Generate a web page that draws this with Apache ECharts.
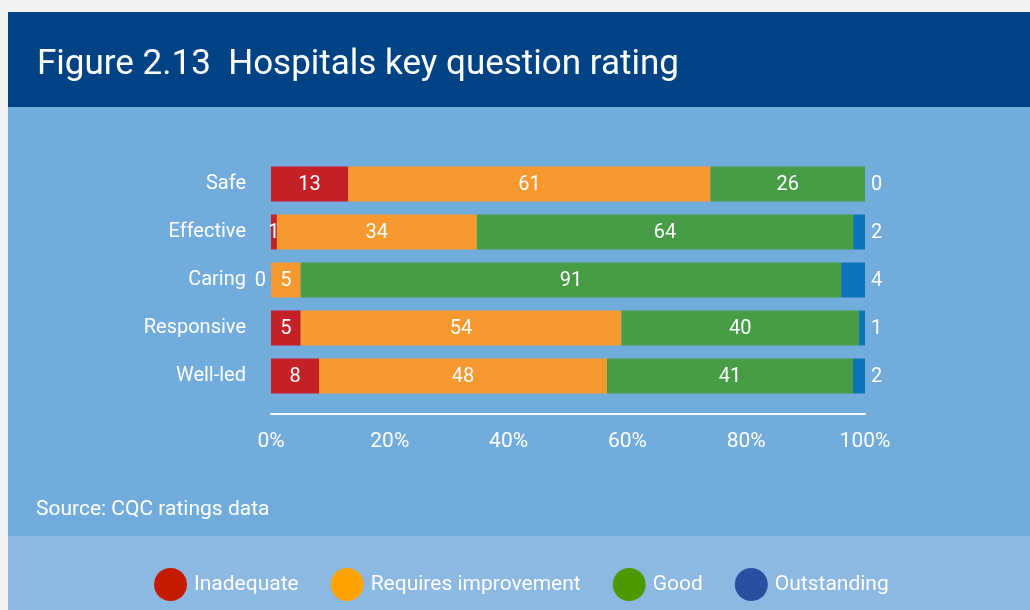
<!DOCTYPE html>
<html>
<head>
<meta charset="utf-8">
<script src="https://cdn.jsdelivr.net/npm/echarts@6/dist/echarts.min.js"></script>
<style>
  html, body { margin: 0; padding: 0; background: #f1f2f4; }
  #chart { width: 1030px; height: 610px; }
</style>
</head>
<body>
<div id="chart"></div>
<script>
// ratings per key question (percent, as printed)
const categories = ["Safe", "Effective", "Caring", "Responsive", "Well-led"]
const inadequate = [13, 1, 0, 5, 8]
const requiresImprovement = [61, 34, 5, 54, 48]
const good = [26, 64, 91, 40, 41]
const outstanding = [0, 2, 4, 1, 2]
const tickLabels = ["0%", "20%", "40%", "60%", "80%", "100%"]

const barColors = ["#c42126", "#f7992e", "#479c46", "#0c73bb"]
const legendColors = ["#c41a00", "#ffa300", "#4f9900", "#2a4fa0"]
const names = ["Inadequate", "Requires improvement", "Good", "Outstanding"]
const FONT = "Roboto"

const chart = echarts.init(document.getElementById("chart"))

// rows are drawn as a 100% stack, labels keep the printed number
const rows = [inadequate, requiresImprovement, good, outstanding]
const totals = categories.map((c, i) => rows.reduce((s, r) => s + r[i], 0))

const makeSeries = (idx) => {
  const vals = rows[idx]
  return {
    name: names[idx],
    type: "bar",
    stack: "total",
    barWidth: 35,
    itemStyle: { color: barColors[idx] },
    label: {
      show: true,
      color: "#fff",
      fontSize: 20,
      fontFamily: FONT,
      position: idx === 3 ? "right" : "inside",
      distance: 6,
      offset: [0, 1],
      formatter: (p) => vals[p.dataIndex]
    },
    data: vals.map((v, i) => {
      const item = { value: (v / totals[i]) * 100 }
      // a zero first segment puts its label outside on the left
      if (idx === 0 && v === 0) item.label = { position: "left", distance: 5 }
      return item
    })
  }
}

const options = {
  backgroundColor: "#f1f2f4",
  animation: false,
  graphic: [
    { type: "rect", shape: { x: 8, y: 12, width: 1022, height: 95 }, style: { fill: "#004385" }, z: -10 },
    { type: "rect", shape: { x: 8, y: 107, width: 1022, height: 429 }, style: { fill: "#72acdc" }, z: -10 },
    { type: "rect", shape: { x: 8, y: 536, width: 1022, height: 74 }, style: { fill: "#8cb9e2" }, z: -10 }
  ],
  title: [
    {
      text: "Figure 2.13  Hospitals key question rating",
      left: 32,
      top: 43,
      textStyle: { color: "#fff", fontSize: 35, fontWeight: "normal", fontFamily: FONT }
    },
    {
      text: "Source: CQC ratings data",
      left: 31,
      top: 494,
      textStyle: { color: "#fff", fontSize: 21, fontWeight: "normal", fontFamily: FONT }
    }
  ],
  legend: {
    left: 149,
    top: 563,
    icon: "circle",
    itemWidth: 33,
    itemHeight: 33,
    itemGap: 32,
    textStyle: { color: "#fff", fontSize: 21, fontFamily: FONT, padding: [0, 0, 0, 2] },
    data: names.map((n, i) => ({ name: n, itemStyle: { color: legendColors[i] } }))
  },
  grid: { left: 271, right: 165, top: 160, bottom: 210 },
  xAxis: {
    type: "value",
    min: 0,
    max: 100,
    interval: 20,
    offset: 14,
    axisLine: { show: true, lineStyle: { color: "#fff", width: 2 } },
    axisTick: { show: false },
    splitLine: { show: false },
    axisLabel: {
      color: "#fff",
      fontSize: 21,
      fontFamily: FONT,
      margin: 17,
      formatter: (v) => tickLabels[Math.round(v / 20)]
    }
  },
  yAxis: {
    type: "category",
    inverse: true,
    data: categories,
    axisLine: { show: false },
    axisTick: { show: false },
    axisLabel: { color: "#fff", fontSize: 20, fontFamily: FONT, margin: 25 }
  },
  series: [0, 1, 2, 3].map(makeSeries)
}

chart.setOption(options)
</script>
</body>
</html>
